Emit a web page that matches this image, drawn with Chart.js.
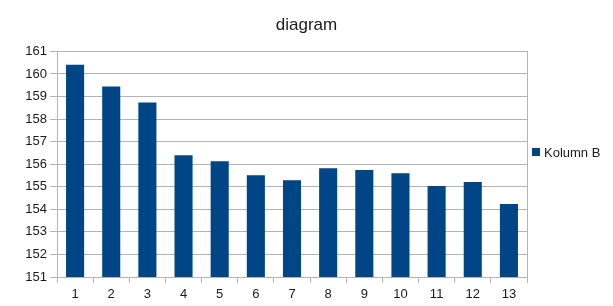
<!DOCTYPE html>
<html>
<head>
<meta charset="utf-8">
<script src="https://cdn.jsdelivr.net/npm/chart.js@4"></script>
<style>
  html, body { margin: 0; padding: 0; background: #fff; }
  #wrap { width: 613px; height: 306px; position: relative; }
</style>
</head>
<body>
<div id="wrap"><canvas id="c"></canvas></div>
<script>
// column chart "diagram" - one series, y axis 151..161

const categories = ['1', '2', '3', '4', '5', '6', '7', '8', '9', '10', '11', '12', '13'];
const kolumnB = [160.41, 159.44, 158.74, 156.40, 156.13, 155.51, 155.29, 155.82, 155.74, 155.60, 155.03, 155.21, 154.24];
const seriesName = 'Kolumn B';
const yMin = 151;
const yMax = 161;

const barColor = '#004586';
const gridColor = '#b3b3b3';
const textColor = '#1a1a1a';
const fontFamily = '"Liberation Sans", Arial, sans-serif';

// legend box to the right of the plot
const sideLegend = {
  id: 'sideLegend',
  afterDraw(chart) {
    const ctx = chart.ctx;
    const area = chart.chartArea;
    const ds = chart.data.datasets[0];
    const x = area.right + 5;
    const y = 152;
    ctx.save();
    ctx.fillStyle = ds.backgroundColor;
    ctx.fillRect(x, y - 4, 8, 8);
    ctx.fillStyle = textColor;
    ctx.font = '13px ' + fontFamily;
    ctx.textBaseline = 'middle';
    ctx.textAlign = 'left';
    ctx.fillText(ds.label, x + 12, y + 1);
    ctx.restore();
  }
};

new Chart(document.getElementById('c'), {
  type: 'bar',
  data: {
    labels: categories,
    datasets: [{
      label: seriesName,
      data: kolumnB,
      backgroundColor: barColor,
      borderWidth: 0,
      barPercentage: 0.5,
      categoryPercentage: 1.0
    }]
  },
  options: {
    responsive: true,
    maintainAspectRatio: false,
    animation: false,
    layout: { padding: 0 },
    plugins: {
      legend: { display: false },
      tooltip: { enabled: false },
      title: {
        display: true,
        text: 'diagram',
        color: textColor,
        font: { family: fontFamily, size: 17, weight: 'normal' },
        padding: { top: 15, bottom: 16 }
      }
    },
    scales: {
      x: {
        offset: true,
        grid: {
          offset: true,
          drawOnChartArea: false,
          drawTicks: true,
          tickLength: 6,
          color: gridColor
        },
        border: { display: true, color: gridColor },
        ticks: {
          color: textColor,
          padding: 4,
          maxRotation: 0,
          font: { family: fontFamily, size: 13 }
        },
        afterFit(scale) { scale.height = 29; }
      },
      y: {
        min: yMin,
        max: yMax,
        grid: {
          color: gridColor,
          drawTicks: true,
          tickLength: 7
        },
        border: { display: true, color: gridColor },
        ticks: {
          stepSize: 1,
          color: textColor,
          padding: 3,
          font: { family: fontFamily, size: 13 }
        },
        afterFit(scale) { scale.width = 57; }
      },
      // empty right axis: closes the plot frame and reserves room for the legend
      y2: {
        position: 'right',
        min: yMin,
        max: yMax,
        grid: { display: false },
        ticks: { display: false },
        border: { display: true, color: gridColor },
        afterFit(scale) { scale.width = 86; }
      }
    }
  },
  plugins: [sideLegend]
});
</script>
</body>
</html>
